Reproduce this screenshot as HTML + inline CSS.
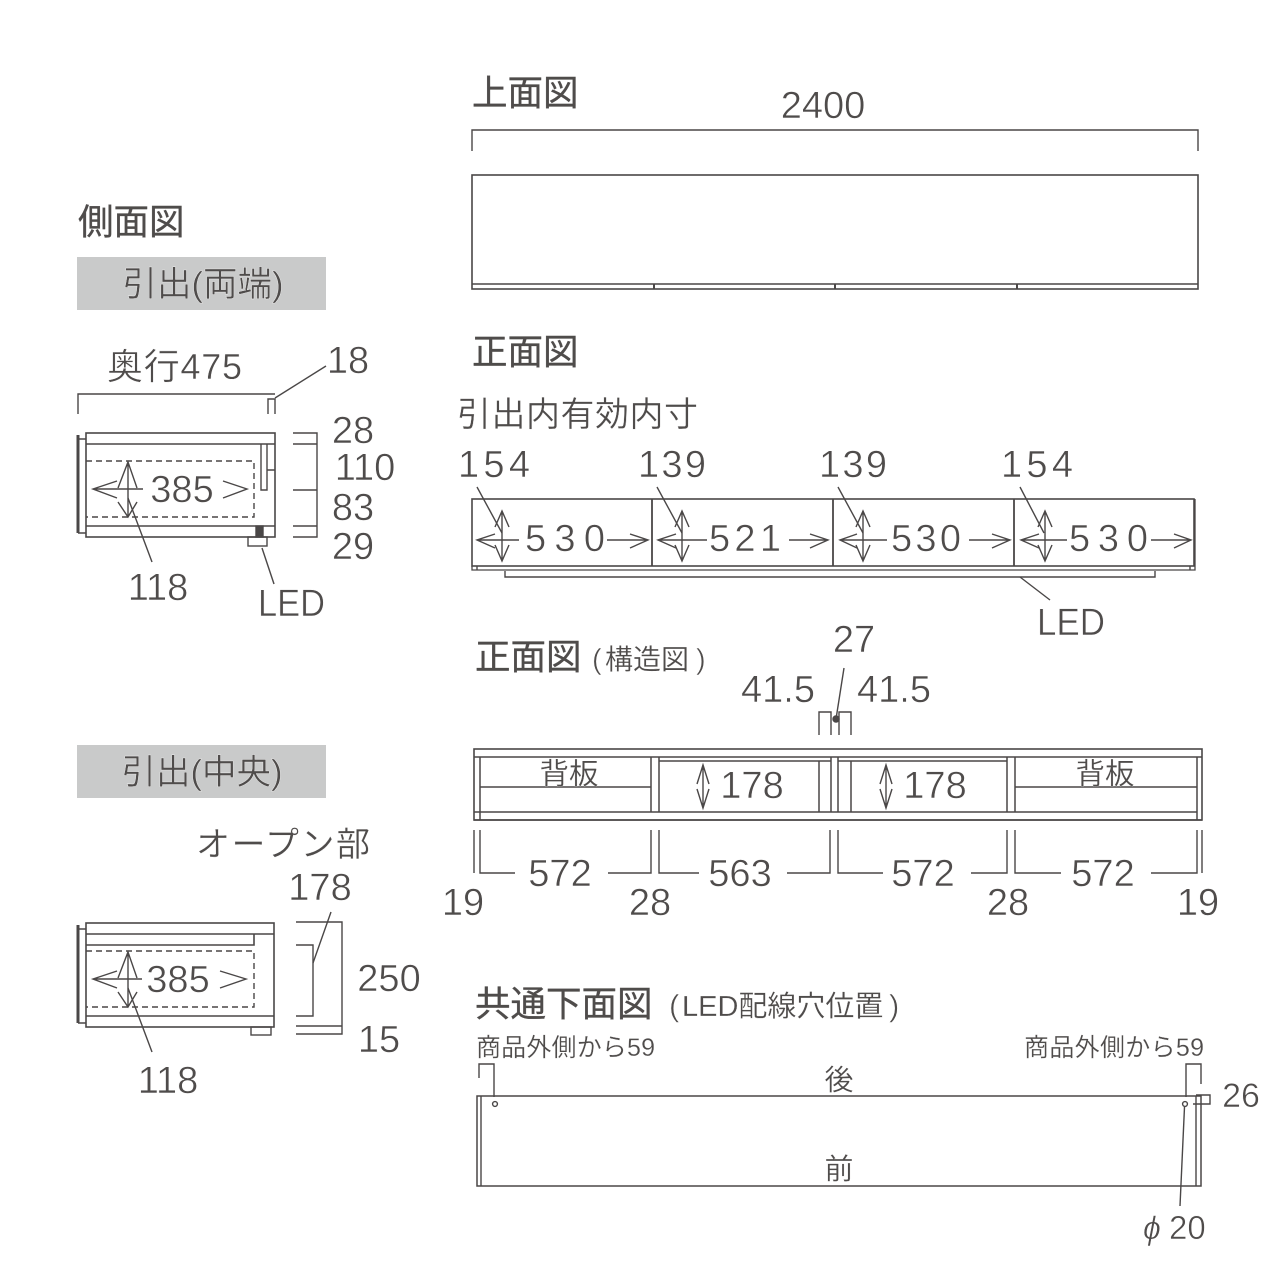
<!DOCTYPE html>
<html lang="ja"><head><meta charset="utf-8"><title>図面</title>
<style>
html,body{margin:0;padding:0;background:#fff}
svg{display:block}
text{font-family:"Liberation Sans","Noto Sans CJK JP",sans-serif;fill:#4f4c4b;stroke:#fff;stroke-width:.5px}
.t{font-size:35.500px;stroke:#4f4c4b;stroke-width:.35px}
.n{font-size:38px}
.m{text-anchor:middle}
.s{font-size:25px;stroke-width:.2px}
.j{font-size:34.500px;stroke-width:.3px}
path,line,rect,circle{fill:none;stroke:#4a4747;stroke-width:1.4}
</style></head><body>
<svg width="1280" height="1280" viewBox="0 0 1280 1280" xmlns="http://www.w3.org/2000/svg">
<rect x="77" y="257" width="249" height="53" style="fill:#c9caca;stroke:none"/>
<rect x="77" y="745" width="249" height="53" style="fill:#c9caca;stroke:none"/>

<!-- Top view -->
<path d="M472 151V130H1198V151"/>
<rect x="472" y="175" width="726" height="114" style="stroke-width:1.6"/>
<line x1="472" y1="284" x2="1198" y2="284" style="stroke-width:1.6"/>
<path d="M654 284V289M835 284V289M1017 284V289" style="stroke-width:2"/>

<!-- Side 1 -->
<path d="M78 414V394H268M268 414V399H275V414M268 394H275"/>
<path d="M275 398L326 366"/>
<rect x="86" y="433" width="189" height="104" style="stroke-width:1.6"/>
<path d="M86 444H275M86 526H275" style="stroke-width:1.6"/>
<path d="M78 435V533" style="stroke-width:3"/>
<path d="M78 439H86M78 533H86"/>
<path d="M261 444V490H267V444M267 470H275"/>
<rect x="256" y="526" width="7" height="11" style="fill:#4a4747"/>
<rect x="248" y="537" width="19" height="9"/>
<path d="M262 548L274 584"/>
<path d="M128 498L152 562"/>
<path d="M86 461H254V517H86" style="stroke-dasharray:6 4"/>
<path d="M117 481L93 489L117 498M93 489H143M223 481L247 489L223 498"/>
<path d="M118 488L128 462L137 488M118 502L128 517L137 502M128 462V517"/>
<path d="M293 433H317V537H293M293 444H317M293 490H317M293 526H317"/>

<!-- Side 2 -->
<rect x="86" y="923" width="188" height="104" style="stroke-width:1.6"/>
<path d="M86 934H274M86 1016H274M86 945H254V934" style="stroke-width:1.6"/>
<path d="M78 925V1023" style="stroke-width:3"/>
<path d="M78 929H86M78 1023H86"/>
<rect x="251" y="1027" width="20" height="8"/>
<path d="M86 951H254V1007H86" style="stroke-dasharray:6 4"/>
<path d="M117 971L93 979L117 988M93 979H142M220 971L246 979L220 988"/>
<path d="M118 978L128 952L137 978M118 992L128 1007L137 992M128 952V1007"/>
<path d="M128 988L152 1052"/>
<path d="M296 922H342V1034H296M296 945H313V1016H296M296 1026H342"/>
<path d="M331 912L313 963"/>

<!-- Front view -->
<rect x="472" y="499" width="722" height="67" style="stroke-width:1.6"/>
<path d="M472 566V570H1195V499" style="stroke-width:1.3"/>
<path d="M477 566V570M1190 566V570"/>
<path d="M652 499V566M833 499V566M1014 499V566" style="stroke-width:1.8"/>
<path d="M505 571V577H1155V571" style="stroke-width:1.4"/>
<path d="M1020 577L1050 600"/>
<path d="M477 487L502 533M657 487L682 533M838 487L863 533M1020 487L1044 533"/>
<!-- arrows -->
<path d="M495 534L477 540L495 548M477 540H519M607 540H648M630 534L648 540L630 548M502 511V561M495 527L502 511L509 527M495 545L502 561L509 545"/>
<path d="M676 534L658 540L676 548M658 540H707M789 540H828M810 534L828 540L810 548M682 511V561M675 527L682 511L689 527M675 545L682 561L689 545"/>
<path d="M857 534L840 540L857 548M840 540H887M969 540H1010M992 534L1010 540L992 548M863 511V561M856 527L863 511L870 527M856 545L863 561L870 545"/>
<path d="M1039 534L1021 540L1039 548M1021 540H1067M1151 540H1191M1174 534L1191 540L1174 548M1045 511V561M1038 527L1045 511L1052 527M1038 545L1045 561L1052 545"/>

<!-- Structure view -->
<rect x="474" y="749" width="728" height="71" style="stroke-width:1.6"/>
<path d="M474 757H1202M474 812H1197M474 820H1202" style="stroke-width:1.6"/>
<path d="M480 757V820M651 757V812M659 757V812M819 761V812M831 757V812M838 757V812M851 761V812M1007 757V812M1015 757V812M1197 757V820" style="stroke-width:1.5"/>
<path d="M480 787H651M1015 787H1197M659 761H831M838 761H1007" style="stroke-width:1.4"/>
<path d="M819 735V712H831V735M839 735V712H851V735"/>
<circle cx="836" cy="719" r="3" style="fill:#4a4747"/>
<path d="M836 719L844 668"/>
<path d="M697 789L703 808L709 789M697 784L703 765L709 784M703 765V808"/>
<path d="M880 789L886 808L892 789M880 784L886 765L892 784M886 765V808"/>
<path d="M474 830V873M480 830V873H515M608 873H651V830M659 830V873H699M787 873H830V830M838 830V873H883M971 873H1007V830M1015 830V873H1061M1151 873H1197V830M1202 830V873"/>

<!-- Bottom view -->
<rect x="477" y="1096" width="724" height="90" style="stroke-width:1.5"/>
<path d="M481 1096V1186M1196 1096V1186"/>
<path d="M479 1078V1064H494V1097M1186 1097V1064H1201V1084"/>
<circle cx="495" cy="1104" r="2.4"/>
<circle cx="1185" cy="1104" r="2.4"/>
<path d="M1184.500 1107L1180 1206"/>
<path d="M1196 1095H1210V1104H1193"/>

<!-- Text -->
<text class="t" x="472" y="105">上面図</text>
<text class="n m" x="823" y="118">2400</text>
<text class="t" x="78" y="234">側面図</text>
<text class="j m" x="203" y="296">引出(両端)</text>
<text class="n" x="107" y="379" style="font-size:36px;stroke-width:.4px" textLength="135">奥行475</text>
<text class="n m" x="348" y="373">18</text>
<text class="n m" x="353" y="443">28</text>
<text class="n m" x="365" y="480">110</text>
<text class="n m" x="353" y="520">83</text>
<text class="n m" x="353" y="559">29</text>
<text class="n m" x="182" y="502">385</text>
<text class="n m" x="158" y="600">118</text>
<text class="n" x="258" y="616" textLength="67" lengthAdjust="spacingAndGlyphs">LED</text>

<text class="t" x="472" y="364">正面図</text>
<text x="457" y="426" textLength="241" style="font-size:34px;stroke-width:.3px">引出内有効内寸</text>
<text class="n" x="458" y="477" textLength="72">154</text>
<text class="n" x="638" y="477" textLength="68">139</text>
<text class="n" x="819" y="477" textLength="68">139</text>
<text class="n" x="1001" y="477" textLength="72">154</text>
<text class="n" x="525" y="551" textLength="80">530</text>
<text class="n" x="709" y="551" textLength="72">521</text>
<text class="n" x="891" y="551" textLength="70">530</text>
<text class="n" x="1069" y="551" textLength="79">530</text>
<text class="n" x="1037" y="635" textLength="68" lengthAdjust="spacingAndGlyphs">LED</text>

<text class="t" x="475" y="669">正面図</text>
<text x="592" y="669" style="font-size:29px">(</text>
<text x="605" y="669" style="font-size:28px;stroke-width:.2px">構造図</text>
<text x="696" y="669" style="font-size:29px">)</text>
<text class="n m" x="854" y="652">27</text>
<text class="n m" x="778" y="702">41.5</text>
<text class="n m" x="894" y="702">41.5</text>
<text class="m" x="569" y="784" style="font-size:29.500px;stroke-width:.2px">背板</text>
<text class="m" x="1105" y="784" style="font-size:29.500px;stroke-width:.2px">背板</text>
<text class="n m" x="752" y="798">178</text>
<text class="n m" x="935" y="798">178</text>
<text class="n m" x="560" y="886">572</text>
<text class="n m" x="740" y="886">563</text>
<text class="n m" x="923" y="886">572</text>
<text class="n m" x="1103" y="886">572</text>
<text class="n m" x="463" y="915">19</text>
<text class="n m" x="650" y="915">28</text>
<text class="n m" x="1008" y="915">28</text>
<text class="n m" x="1198" y="915">19</text>

<text class="j m" x="202" y="784">引出(中央)</text>
<text x="196" y="856" textLength="174" style="font-size:34px;stroke-width:.3px">オープン部</text>
<text class="n m" x="320" y="900">178</text>
<text class="n m" x="178" y="992">385</text>
<text class="n m" x="389" y="991">250</text>
<text class="n m" x="379" y="1052">15</text>
<text class="n m" x="168" y="1093">118</text>

<text class="t" x="475" y="1016">共通下面図</text>
<text x="669" y="1016" style="font-size:31px">(</text>
<text x="682" y="1016" style="font-size:29px;stroke-width:.2px">LED配線穴位置</text>
<text x="889" y="1016" style="font-size:31px">)</text>
<text class="s" x="476" y="1056" textLength="179">商品外側から59</text>
<text class="s" x="1024" y="1056" textLength="180">商品外側から59</text>
<text class="m" x="839" y="1090" style="font-size:29px;stroke-width:.2px">後</text>
<text class="m" x="839" y="1179" style="font-size:29px;stroke-width:.2px">前</text>
<text class="m" x="1241" y="1107" style="font-size:34px">26</text>
<text x="1143" y="1239" style="font-size:32px;font-style:italic">ϕ</text>
<text x="1169" y="1239" style="font-size:33px">20</text>
</svg>
</body></html>
